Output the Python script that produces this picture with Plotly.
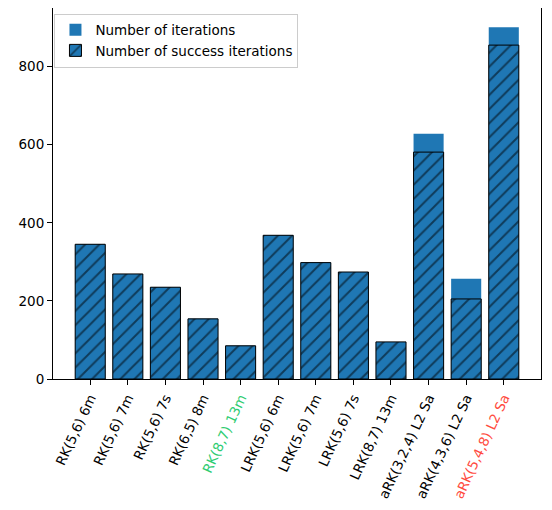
import plotly.graph_objects as go

# data
methods = ["RK(5,6) 6m", "RK(5,6) 7m", "RK(5,6) 7s", "RK(6,5) 8m", "RK(8,7) 13m",
           "LRK(5,6) 6m", "LRK(5,6) 7m", "LRK(5,6) 7s", "LRK(8,7) 13m",
           "aRK(3,2,4) L2 Sa", "aRK(4,3,6) L2 Sa", "aRK(5,4,8) L2 Sa"]
n_iterations = [345, 269, 235, 154, 85, 368, 298, 274, 95, 628, 257, 901]
n_success = [345, 269, 235, 154, 85, 368, 298, 274, 95, 581, 205, 855]
label_colors = {"RK(8,7) 13m": "#2ecc71", "aRK(5,4,8) L2 Sa": "#ff4b3e"}

xs = list(range(len(methods)))
ticktext = []
for m in methods:
    if m in label_colors:
        ticktext.append(f'<span style="color:{label_colors[m]}">{m}</span>')
    else:
        ticktext.append(m)

fig = go.Figure()
fig.add_trace(go.Bar(
    x=xs, y=n_iterations, width=0.8, name="Number of iterations",
    marker=dict(color="#1f77b4", line=dict(width=0)),
))
fig.add_trace(go.Bar(
    x=xs, y=n_success, width=0.8, name="Number of success iterations",
    marker=dict(color="#1f77b4", line=dict(color="black", width=1),
                pattern=dict(shape="/", fgcolor="black", bgcolor="#1f77b4",
                             size=10, solidity=0.2)),
))

# the page body adds 8px, so the figure is a bit smaller than the window
fig.update_layout(
    width=544, height=502,
    barmode="overlay",
    plot_bgcolor="white", paper_bgcolor="white",
    margin=dict(l=45, r=11, t=0, b=131, autoexpand=False),
    font=dict(family="DejaVu Sans", size=13.5, color="black"),
    legend=dict(x=0.003, y=0.985, xanchor="left", yanchor="top",
                bordercolor="#cccccc", borderwidth=1, bgcolor="white",
                font=dict(size=13.5), itemwidth=30, tracegroupgap=0),
    showlegend=True,
)
fig.update_xaxes(
    range=[-0.99, 11.99], tickmode="array", tickvals=xs, ticktext=ticktext,
    tickangle=-65, ticks="outside", ticklen=5, tickcolor="black",
    showline=True, linecolor="black", linewidth=1, mirror=True,
    showgrid=False, zeroline=False, automargin=False,
)
fig.update_yaxes(
    range=[0, 950], tickvals=[0, 200, 400, 600, 800],
    ticks="outside", ticklen=5, tickcolor="black",
    showline=True, linecolor="black", linewidth=1, mirror=True,
    showgrid=False, zeroline=False, automargin=False,
)

fig.write_html("out.html")
